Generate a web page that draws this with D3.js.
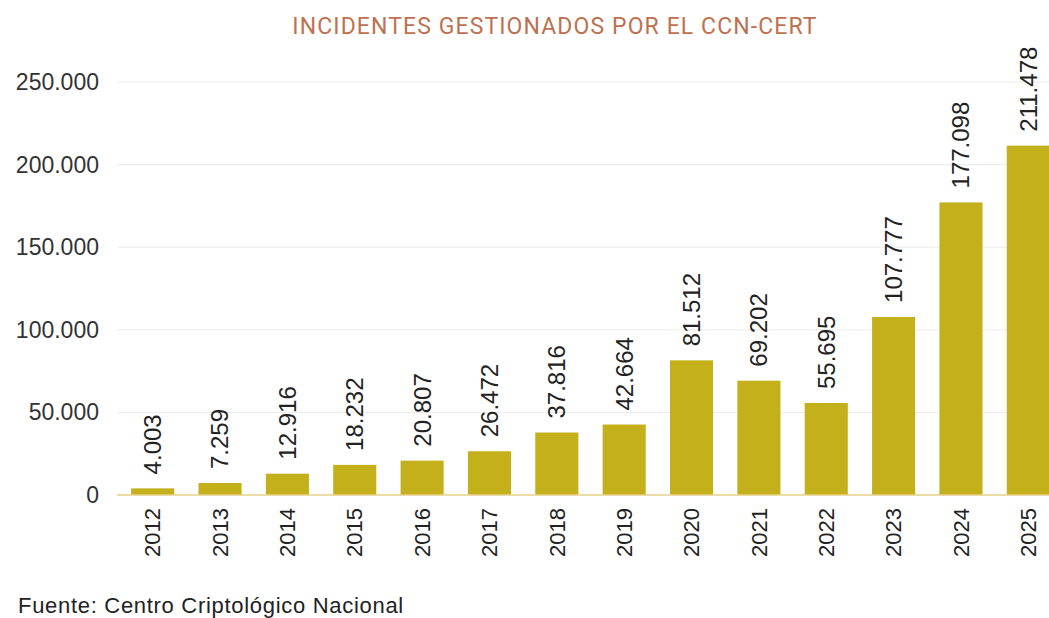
<!DOCTYPE html>
<html lang="es">
<head>
<meta charset="UTF-8">
<title>Incidentes gestionados por el CCN-CERT</title>
<script src="https://d3js.org/d3.v7.min.js"></script>
<style>
  body { margin: 0; background: #fff; }
  svg { display: block; }
</style>
</head>
<body>
<svg id="chart" width="1049" height="618"></svg>
<script>
// data
const years = ["2012","2013","2014","2015","2016","2017","2018","2019","2020","2021","2022","2023","2024","2025"];
const incidents = [4003, 7259, 12916, 18232, 20807, 26472, 37816, 42664, 81512, 69202, 55695, 107777, 177098, 211478];
const yTicks = [0, 50000, 100000, 150000, 200000, 250000];

const W = 1049, H = 618;
const margin = { top: 82, right: -13, bottom: 123, left: 119 };
const font = "Liberation Sans, Arial, sans-serif";

const svg = d3.select("#chart");

const fmt = d3.formatLocale({ decimal: ",", thousands: ".", grouping: [3], currency: ["", "€"] }).format(",d");

const x = d3.scaleBand()
  .domain(years)
  .range([margin.left, W - margin.right])
  .paddingInner(0.36)
  .paddingOuter(0.18);

const y = d3.scaleLinear()
  .domain([0, 250000])
  .range([H - margin.bottom, margin.top]);

// title
svg.append("text")
  .attr("x", 555)
  .attr("y", 34)
  .attr("text-anchor", "middle")
  .attr("font-family", "Roboto, sans-serif")
  .attr("font-size", 23)
  .attr("letter-spacing", 1.1)
  .attr("fill", "#bd7150")
  .text("INCIDENTES GESTIONADOS POR EL CCN-CERT");

// gridlines
svg.append("g")
  .selectAll("line")
  .data(yTicks.slice(1))
  .join("line")
  .attr("x1", margin.left - 2)
  .attr("x2", W)
  .attr("y1", d => y(d))
  .attr("y2", d => y(d))
  .attr("stroke", "#ebebeb")
  .attr("stroke-width", 1);

// y tick labels
svg.append("g")
  .selectAll("text")
  .data(yTicks)
  .join("text")
  .attr("x", 99)
  .attr("y", d => y(d))
  .attr("dy", "0.35em")
  .attr("text-anchor", "end")
  .attr("font-family", font)
  .attr("font-size", 23)
  .attr("fill", "#333")
  .text(d => fmt(d));

// bars
svg.append("g")
  .selectAll("rect")
  .data(incidents)
  .join("rect")
  .attr("x", (d, i) => x(years[i]))
  .attr("y", d => y(d))
  .attr("width", x.bandwidth())
  .attr("height", d => y(0) - y(d))
  .attr("fill", "#c3b01b");

// baseline
svg.append("line")
  .attr("x1", margin.left - 2)
  .attr("x2", W)
  .attr("y1", y(0))
  .attr("y2", y(0))
  .attr("stroke", "#e6d28a")
  .attr("stroke-width", 1.5);

// value labels (rotated)
svg.append("g")
  .selectAll("text")
  .data(incidents)
  .join("text")
  .attr("transform", (d, i) => `translate(${x(years[i]) + x.bandwidth() / 2},${y(d) - 14}) rotate(-90)`)
  .attr("dy", "0.35em")
  .attr("text-anchor", "start")
  .attr("font-family", font)
  .attr("font-size", 24)
  .attr("fill", "#222")
  .text(d => fmt(d));

// year labels (rotated)
svg.append("g")
  .selectAll("text")
  .data(years)
  .join("text")
  .attr("transform", d => `translate(${x(d) + x.bandwidth() / 2},${y(0) + 13}) rotate(-90)`)
  .attr("dy", "0.35em")
  .attr("text-anchor", "end")
  .attr("font-family", font)
  .attr("font-size", 22)
  .attr("fill", "#222")
  .text(d => d);

// source
svg.append("text")
  .attr("x", 18)
  .attr("y", 613)
  .attr("font-family", font)
  .attr("font-size", 22)
  .attr("letter-spacing", 0.7)
  .attr("fill", "#222")
  .text("Fuente: Centro Criptológico Nacional");
</script>
</body>
</html>
